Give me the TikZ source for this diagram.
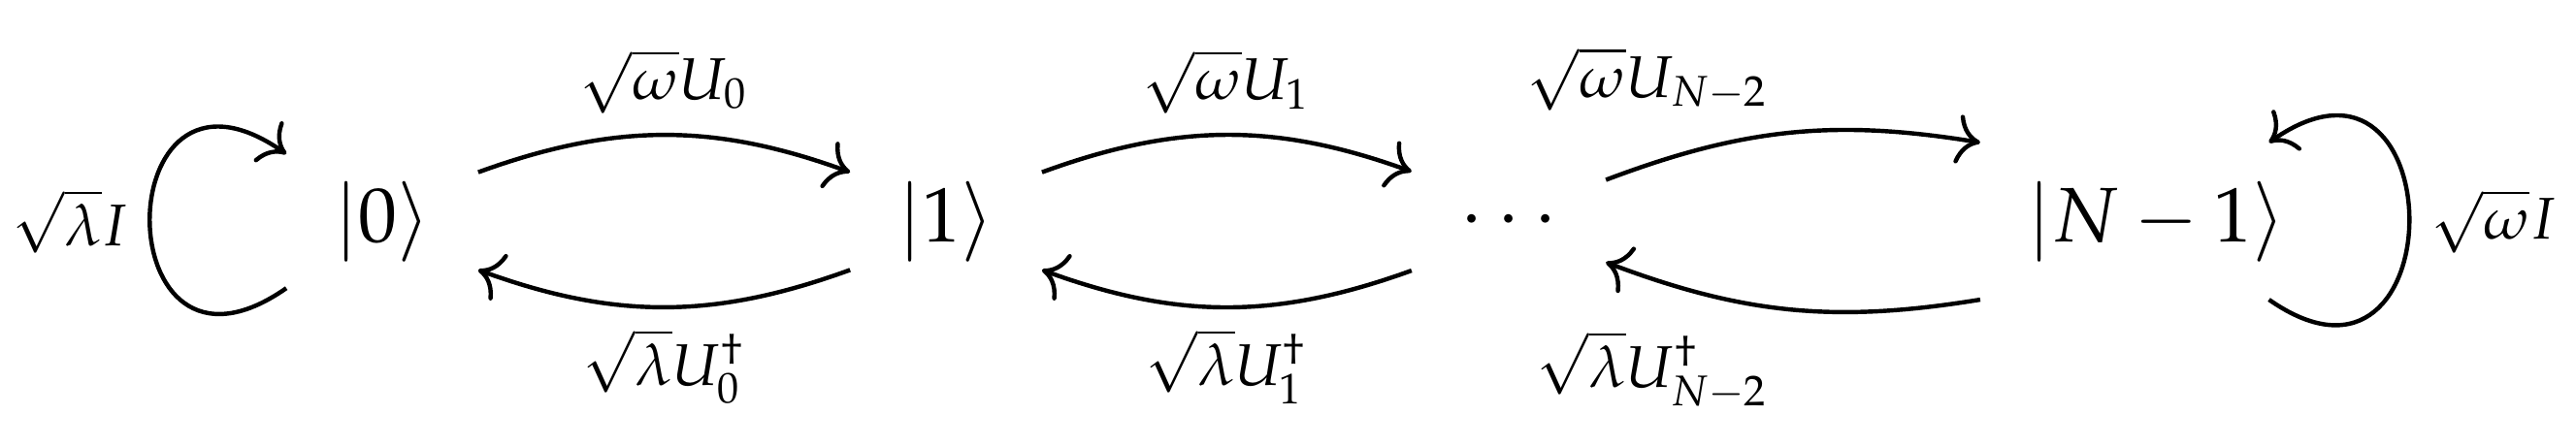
\documentclass[tikz,border=0pt,11pt]{standalone}
\usepackage{mathpazo}
\usetikzlibrary{arrows.meta}

\begin{document}
\begin{tikzpicture}
  [auto=left, thick, >={To[scale=1.3]},
   ket/.style={font=\Large, inner xsep=8.5pt, minimum width=1.17cm, minimum height=1cm}]
  \useasboundingbox (-2.5,-1.466) rectangle (14.347,1.447);
  % estados de la cadena
  \node[ket] (n0) at (0,0)      {$|0\rangle$};
  \node[ket] (n1) at (3.687,0)  {$|1\rangle$};
  \node[ket] (n2) at (7.367,0)  {$\cdots$};
  \node[ket] (n3) at (11.605,0) {$|N-1\rangle$};

  % transiciones entre vecinos
  \draw[->] (n0.27) to[bend left=20] node {$\sqrt{\omega}U_0$} (n1.153);
  \draw[->] (n1.207) to[bend left=20] node {$\sqrt{\lambda}U_0^\dagger$} (n0.333);
  \draw[->] (n1.27) to[bend left=20] node {$\sqrt{\omega}U_1$} (n2.153);
  \draw[->] (n2.207) to[bend left=20] node {$\sqrt{\lambda}U_1^\dagger$} (n1.333);
  \draw[->] (n2.23) to[bend left=15] node {$\sqrt{\omega}U_{N-2}$} (n3.156);
  \draw[->] (n3.204) to[bend left=15] node {$\sqrt{\lambda}U_{N-2}^\dagger$} (n2.337);

  % lazos en los extremos
  \draw[->] (n0) to[out=215,in=145,distance=1.45cm] node {$\sqrt{\lambda}I$} (n0);
  \draw[->] (n3) to[out=-35,in=35,distance=1.49cm] node[swap] {$\sqrt{\omega}I$} (n3);
\end{tikzpicture}
\end{document}
